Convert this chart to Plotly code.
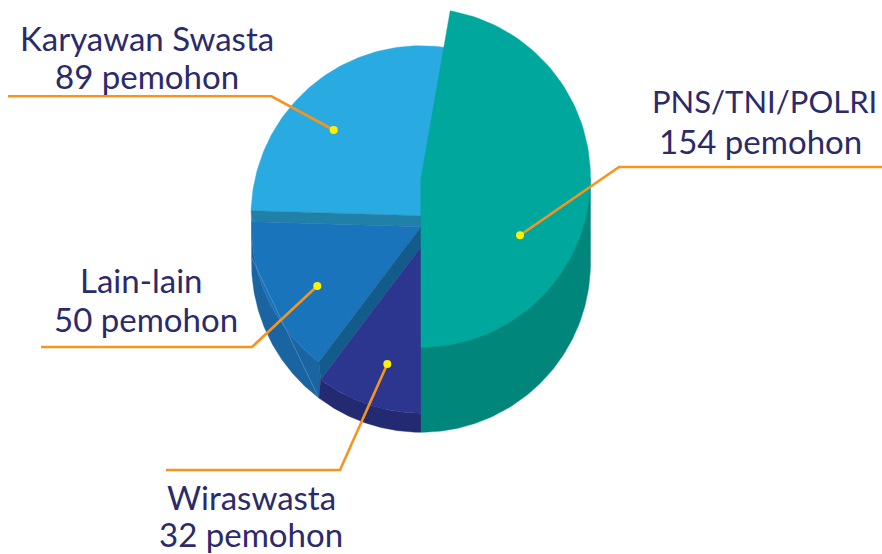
import numpy as np
import plotly.graph_objects as go

categories = ["Wiraswasta", "Lain-lain", "Karyawan Swasta", "PNS/TNI/POLRI"]
values = [32, 50, 89, 154]
unit = "pemohon"

TEXT = "#2b2a6b"
ORANGE = "#f7941d"
YELLOW = "#fff200"
FONT = "Lato"
FS = 33

# picture geometry (pixels of the 882x554 canvas)
CX = 421
top_cy = {"Wiraswasta": 246.7, "Lain-lain": 226.7, "Karyawan Swasta": 215.7, "PNS/TNI/POLRI": 177.8}
top_r = {"Wiraswasta": 166.5, "Lain-lain": 169.5, "Karyawan Swasta": 170, "PNS/TNI/POLRI": 169.5}
BASE_CY, BASE_R = 262.8, 169.5
nudge = [1.6, 0.9, 0.5, 0.0]   # small perspective skew of each slice boundary

shares = 360 * np.array(values) / sum(values)
ends = np.cumsum(shares) + np.array(nudge)
starts = np.concatenate([[0.0], ends[:-1]])
bounds = {c: (s, e) for c, s, e in zip(categories, starts, ends)}


def pt(theta, cy, r):
    t = np.radians(theta)
    return CX - r * np.sin(t), cy + r * np.cos(t)


def arc(a, b, cy, r, n=90):
    return pt(np.linspace(a, b, n), cy, r)


fig = go.Figure()


def poly(xs, ys, color):
    fig.add_trace(go.Scatter(x=list(xs), y=list(ys), mode="lines", fill="toself", fillcolor=color,
                             line=dict(color=color, width=0.4), hoverinfo="skip", showlegend=False))


def top_face(cat, color):
    a, b = bounds[cat]
    cy, r = top_cy[cat], top_r[cat]
    x, y = arc(a, b, cy, r)
    poly(np.r_[CX, x, CX], np.r_[cy, y, cy], color)


W, L, K, P = categories
wl = bounds[W][1]
lk = bounds[L][1]
kp = bounds[K][1]

# Karyawan Swasta
top_face(K, "#29abe2")
x1, y1 = pt(lk, top_cy[K], top_r[K])
x2, y2 = pt(lk, top_cy[L], top_r[L])
poly([CX, x1, x2, CX, CX], [top_cy[K], y1, y2, top_cy[L], top_cy[K]], "#2180a8")

# Lain-lain
xc, yc = pt(wl, top_cy[W], top_r[W])
xt, yt = arc(wl, lk, top_cy[L], top_r[L])
xb, yb = arc(lk, wl, BASE_CY, BASE_R)
poly(np.r_[xc, xt, xb, xc], np.r_[yc, yt, yb, yc], "#1a64a2")
top_face(L, "#1a74bc")
x1, y1 = pt(wl, top_cy[L], top_r[L])
poly([CX, x1, xc, CX, CX], [top_cy[L], y1, yc, top_cy[W], top_cy[L]], "#135b8a")
x1, y1 = pt(lk, BASE_CY, BASE_R)
x2, y2 = pt(wl, BASE_CY, BASE_R)
fig.add_trace(go.Scatter(x=[x1, x2], y=[y1, y2], mode="lines", line=dict(color="#6d9cc0", width=0.6),
                         hoverinfo="skip", showlegend=False))

# Wiraswasta
xt, yt = arc(0, wl, top_cy[W], top_r[W])
xb, yb = arc(wl, 0, BASE_CY, BASE_R)
poly(np.r_[xt, xb, xt[0]], np.r_[yt, yb, yt[0]], "#242a72")
top_face(W, "#2c368f")

# PNS/TNI/POLRI
xb, yb = arc(360, 270, BASE_CY, BASE_R)
poly(np.r_[CX, xb, xb[-1], CX], np.r_[top_cy[P], yb, top_cy[P], top_cy[P]], "#00867a")
top_face(P, "#00a79d")

# leader lines and dots
leaders = {
    K: ([8, 271.5, 333.7], [96.3, 96.3, 130]),
    P: ([882, 619, 520], [167, 167, 235.3]),
    L: ([41, 252, 317.3], [347, 347, 286]),
    W: ([166, 340, 387.3], [470, 470, 364]),
}
for c, (lx, ly) in leaders.items():
    fig.add_trace(go.Scatter(x=lx, y=ly, mode="lines", line=dict(color=ORANGE, width=2.6),
                             hoverinfo="skip", showlegend=False))
    fig.add_trace(go.Scatter(x=[lx[-1]], y=[ly[-1]], mode="markers", marker=dict(color=YELLOW, size=8),
                             hoverinfo="skip", showlegend=False))

# labels: name line and count line (centre x, centre y, font size)
label_pos = {
    K: ((147, 38, FS), (147, 75.5, FS)),
    P: ((764, 101, 31), (760, 141, FS)),
    L: ((141, 279.5, FS), (146, 318.5, FS)),
    W: ((251, 497, FS), (251, 533.5, FS)),
}
for c, v in zip(categories, values):
    (x1, y1, s1), (x2, y2, s2) = label_pos[c]
    for x, y, s, t in [(x1, y1, s1, c), (x2, y2, s2, f"{v} {unit}")]:
        fig.add_annotation(x=x, y=y, text=t, showarrow=False, xanchor="center", yanchor="middle",
                           font=dict(family=FONT, size=s, color=TEXT))

fig.update_layout(width=882, height=554, margin=dict(l=0, r=0, t=0, b=0),
                  paper_bgcolor="white", plot_bgcolor="white", showlegend=False,
                  xaxis=dict(range=[0, 882], visible=False, fixedrange=True),
                  yaxis=dict(range=[554, 0], visible=False, fixedrange=True))
fig.write_html("out.html", config={"displayModeBar": False},
               post_script="document.body.style.margin='0';document.body.style.overflow='hidden';")
